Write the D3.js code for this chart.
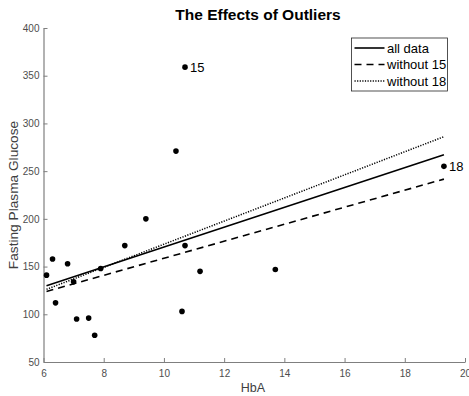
<!DOCTYPE html>
<html>
<head>
<meta charset="utf-8">
<script src="https://cdn.jsdelivr.net/npm/d3@7"></script>
<style>
  body { margin: 0; background: #fff; }
  text { font-family: "Liberation Sans", Arial, sans-serif; }
</style>
</head>
<body>
<svg id="chart" width="469" height="396"></svg>
<script>
'use strict';

// HbA (x) and fasting plasma glucose (y), in observation order
var hba = [6.1, 6.3, 6.4, 6.8, 7.0, 7.1, 7.5, 7.7, 7.9, 8.7, 9.4, 10.4, 10.6, 10.7, 10.7, 11.2, 13.7, 19.3];
var fpg = [141, 158, 112, 153, 134, 95, 96, 78, 148, 172, 200, 271, 103, 172, 359, 145, 147, 255];
var labelled = [15, 18];
var xTicks = [6, 8, 10, 12, 14, 16, 18, 20];
var yTicks = [50, 100, 150, 200, 250, 300, 350, 400];
var fits = [
  { name: 'all data', drop: null, dash: null, width: 1.6 },
  { name: 'without 15', drop: 15, dash: '7,5', width: 1.6 },
  { name: 'without 18', drop: 18, dash: '1.2,1.4', width: 1.5 }
];

var points = hba.map(function (x, i) { return { id: i + 1, x: x, y: fpg[i] }; });

// least squares line through a set of points
function fit(pts) {
  var mx = d3.mean(pts, function (d) { return d.x; });
  var my = d3.mean(pts, function (d) { return d.y; });
  var sxy = d3.sum(pts, function (d) { return (d.x - mx) * (d.y - my); });
  var sxx = d3.sum(pts, function (d) { return (d.x - mx) * (d.x - mx); });
  var b = sxy / sxx;
  return { b: b, a: my - b * mx };
}

var svg = d3.select('#chart');
var x = d3.scaleLinear().domain([6, 20]).range([43.5, 465]);
var y = d3.scaleLinear().domain([50, 400]).range([362, 28]);
var axisColor = '#7f7f7f';
var tickText = '#4d4d4d';

// axes (MATLAB style: inward ticks, no box)
var xAxis = svg.append('g')
  .attr('transform', 'translate(0,362)')
  .call(d3.axisBottom(x).tickValues(xTicks).tickSizeInner(-4).tickSizeOuter(0).tickPadding(8));
var yAxis = svg.append('g')
  .attr('transform', 'translate(43.5,0)')
  .call(d3.axisLeft(y).tickValues(yTicks).tickSizeInner(-4).tickSizeOuter(0).tickPadding(4));

[xAxis, yAxis].forEach(function (ax) {
  ax.select('.domain').attr('stroke', axisColor).attr('stroke-width', 1.2);
  ax.selectAll('.tick line').attr('stroke', axisColor);
  ax.selectAll('.tick text')
    .attr('fill', tickText)
    .style('font-size', '10px')
    .style('font-family', '"Liberation Sans", Arial, sans-serif');
});

// fitted lines
var xr = d3.extent(hba);
var line = d3.line()
  .x(function (d) { return x(d[0]); })
  .y(function (d) { return y(d[1]); });

fits.forEach(function (f) {
  var c = fit(points.filter(function (d) { return d.id !== f.drop; }));
  svg.append('path')
    .datum(xr.map(function (v) { return [v, c.a + c.b * v]; }))
    .attr('d', line)
    .attr('fill', 'none')
    .attr('stroke', '#000')
    .attr('stroke-width', f.width)
    .attr('stroke-dasharray', f.dash);
});

// points
svg.append('g').selectAll('circle')
  .data(points)
  .join('circle')
  .attr('cx', function (d) { return x(d.x); })
  .attr('cy', function (d) { return y(d.y); })
  .attr('r', 2.8)
  .attr('fill', '#000');

svg.append('g').selectAll('text')
  .data(points.filter(function (d) { return labelled.indexOf(d.id) >= 0; }))
  .join('text')
  .attr('x', function (d) { return x(d.x) + 5; })
  .attr('y', function (d) { return y(d.y) + 4.5; })
  .style('font-size', '13px')
  .text(function (d) { return d.id; });

// titles
svg.append('text')
  .attr('x', 258).attr('y', 20)
  .attr('text-anchor', 'middle')
  .style('font-size', '15.5px').style('font-weight', 'bold')
  .text('The Effects of Outliers');

svg.append('text')
  .attr('x', 253).attr('y', 391.5)
  .attr('text-anchor', 'middle')
  .attr('fill', '#404040')
  .style('font-size', '12.5px')
  .text('HbA');

svg.append('text')
  .attr('transform', 'translate(17.5,195) rotate(-90)')
  .attr('text-anchor', 'middle')
  .attr('fill', '#404040')
  .style('font-size', '13.7px')
  .text('Fasting Plasma Glucose');

// legend
var lg = svg.append('g').attr('transform', 'translate(351.5,38)');
lg.append('rect')
  .attr('width', 96).attr('height', 53)
  .attr('fill', '#fff').attr('stroke', '#262626').attr('stroke-width', 0.8);

var row = lg.selectAll('g.row')
  .data(fits)
  .join('g')
  .attr('class', 'row')
  .attr('transform', function (d, i) { return 'translate(0,' + (10 + i * 16.5) + ')'; });

row.append('line')
  .attr('x1', 3).attr('x2', 33)
  .attr('stroke', '#000')
  .attr('stroke-width', function (d) { return d.width; })
  .attr('stroke-dasharray', function (d) { return d.dash; });

row.append('text')
  .attr('x', 35.5).attr('y', 4.5)
  .style('font-size', '13px')
  .text(function (d) { return d.name; });
</script>
</body>
</html>
